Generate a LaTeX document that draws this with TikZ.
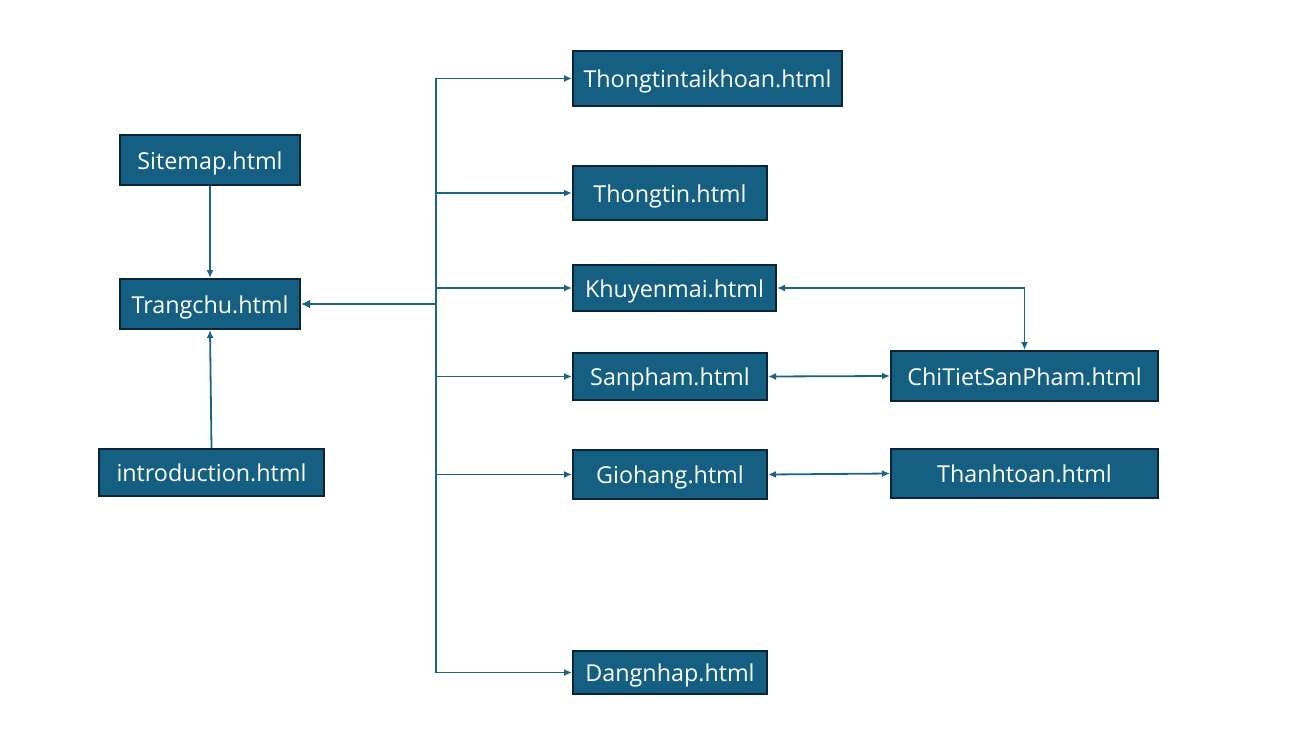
\documentclass[tikz,border=0pt]{standalone}
\usepackage{fontspec}
\setmainfont{Open Sans}
\usetikzlibrary{arrows.meta}
\definecolor{boxfill}{HTML}{156082}
\definecolor{boxedge}{HTML}{0B2538}
\definecolor{linecol}{HTML}{1B6487}
\begin{document}
\begin{tikzpicture}[x=1pt,y=-1pt,
  pagebox/.style={draw=boxedge,line width=2pt,fill=boxfill,text=white,
    inner sep=0pt,text height=20pt,text depth=2pt,font=\fontsize{23.3}{27}\selectfont},
  conn/.style={draw=linecol,line width=1.8pt,-{Latex[length=8pt,width=7pt]}},
  biconn/.style={draw=linecol,line width=1.8pt,{Latex[length=8pt,width=7pt]}-{Latex[length=8pt,width=7pt]}}]
\useasboundingbox (0,0) rectangle (1308,733);
\node[pagebox,minimum width=180pt,minimum height=50pt] (sitemap) at (210,160) {Sitemap.html};
\node[pagebox,minimum width=180pt,minimum height=50pt] (trang) at (210,304) {Trangchu.html};
\node[pagebox,minimum width=225pt,minimum height=47pt] (intro) at (211.5,472.5) {introduction.html};
\node[pagebox,minimum width=269pt,minimum height=55pt] (tttk) at (707.5,78.5) {Thongtintaikhoan.html};
\node[pagebox,minimum width=194pt,minimum height=54pt] (tt) at (670,193) {Thongtin.html};
\node[pagebox,minimum width=203pt,minimum height=46pt] (km) at (674.5,288) {Khuyenmai.html};
\node[pagebox,minimum width=194pt,minimum height=47pt] (sp) at (670,376.5) {Sanpham.html};
\node[pagebox,minimum width=267pt,minimum height=50pt] (ctsp) at (1024.5,376) {ChiTietSanPham.html};
\node[pagebox,minimum width=194pt,minimum height=49pt] (gh) at (670,474.5) {Giohang.html};
\node[pagebox,minimum width=267pt,minimum height=49pt] (thanh) at (1024.5,473.5) {Thanhtoan.html};
\node[pagebox,minimum width=194pt,minimum height=43pt] (dn) at (670,672.5) {Dangnhap.html};
\coordinate (trunk) at (436,304);
\coordinate (ttop) at (436,78.5);
\coordinate (tbot) at (436,672.5);
\draw[draw=linecol,line width=1.8pt] (ttop) -- (tbot);
\draw[conn] (ttop) -- (tttk.west);
\draw[conn] (tt.west -| trunk) -- (tt.west);
\draw[conn] (km.west -| trunk) -- (km.west);
\draw[conn] (sp.west -| trunk) -- (sp.west);
\draw[conn] (gh.west -| trunk) -- (gh.west);
\draw[conn] (tbot) -- (dn.west);
\draw[draw=linecol,line width=2.8pt,-{Latex[length=9pt,width=9pt]}] (trunk) -- (trang.east);
\draw[conn] (sitemap.south) -- (trang.north);
\draw[conn] (intro.north) -- (trang.south);
\draw[biconn] (km.east) -| (ctsp.north);
\draw[biconn] (sp.east) -- (ctsp.west);
\draw[biconn] (gh.east) -- (thanh.west);
\end{tikzpicture}
\end{document}
